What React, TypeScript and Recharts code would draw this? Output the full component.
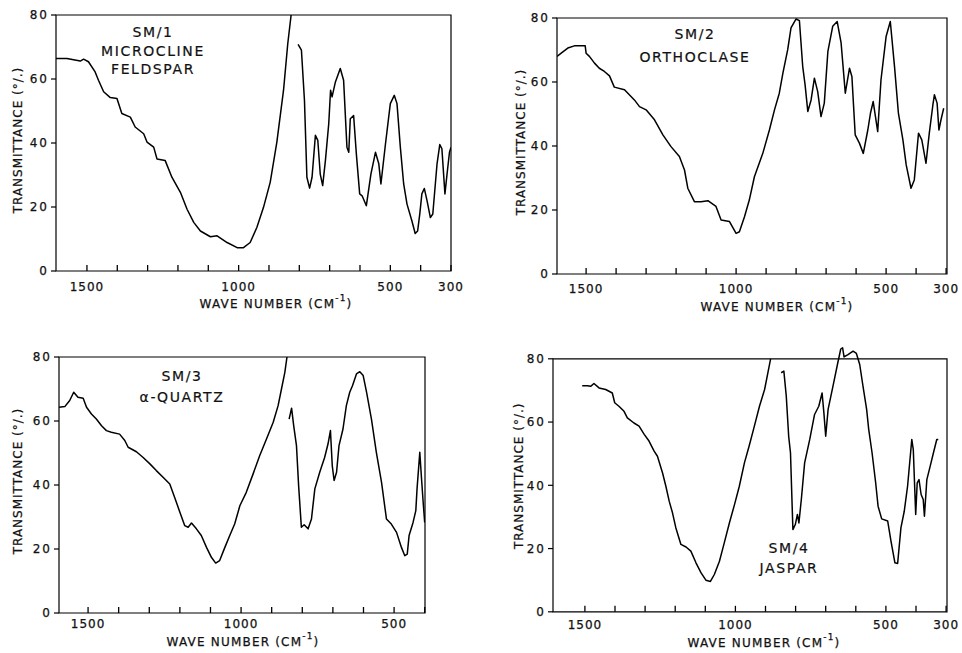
import { LineChart, Line, XAxis, YAxis, ReferenceArea, Label } from 'recharts';

// wave number ticks (cm-1) and which of them carry a label
const xTicks = [1500, 1400, 1300, 1200, 1100, 1000, 900, 800, 700, 600, 500, 400, 300];
const xTickLabels = [1500, 1000, 500, 300];
const yTicks = [0, 20, 40, 60, 80];

// SM/1 microcline feldspar (null = pen off the chart)
const sm1Wave = [1602, 1566, 1522, 1511, 1495, 1473, 1462, 1445, 1423, 1401, 1385, 1357, 1341, 1313, 1302, 1280, 1269, 1242, 1220, 1192, 1170, 1148, 1126, 1093, 1071, 1038, 1005, 984, 962, 940, 918, 896, 874, 852, 838, 827, 815, 804, 793, 783, 775, 766, 758, 747, 739, 731, 723, 714, 703, 697, 692, 681, 665, 654, 643, 637, 632, 621, 612, 601, 593, 579, 564, 549, 538, 531, 516, 500, 487, 478, 467, 456, 445, 429, 418, 410, 403, 396, 388, 379, 368, 360, 346, 337, 330, 320, 313, 305, 300];
const sm1T = [66.4, 66.4, 65.6, 66.2, 65.4, 62.2, 59.6, 56, 54.2, 53.9, 49.2, 48.1, 45, 42.9, 40.3, 38.7, 35, 34.5, 29.3, 24.6, 19.3, 15.2, 12.5, 10.7, 11, 8.9, 7.3, 7.3, 8.9, 13.6, 19.9, 27.7, 40.3, 56.5, 71.1, 80, null, 70.8, 69, 53.3, 29.3, 25.9, 29.3, 42.4, 40.8, 30.3, 26.7, 34.5, 46, 56.5, 54.4, 59.1, 63.3, 59.6, 38.7, 37.1, 47.6, 48.6, 36.6, 24.1, 23.5, 20.4, 30.3, 37.1, 33.5, 27.2, 39.7, 52.3, 54.9, 52.3, 38.7, 27.2, 20.9, 15.7, 11.7, 12.5, 17.8, 24.1, 25.8, 22, 16.7, 17.8, 33.5, 39.5, 38.2, 24.1, 30.3, 37.1, 38.7];

// SM/2 orthoclase
const sm2Wave = [1597, 1583, 1561, 1539, 1503, 1500, 1489, 1472, 1456, 1439, 1422, 1406, 1372, 1339, 1322, 1300, 1272, 1244, 1217, 1189, 1172, 1161, 1139, 1117, 1094, 1067, 1050, 1022, 1000, 989, 972, 956, 939, 911, 889, 872, 856, 844, 828, 817, 800, 789, 778, 770, 761, 750, 739, 728, 717, 706, 694, 678, 663, 650, 636, 622, 614, 603, 589, 576, 561, 552, 543, 528, 517, 500, 486, 472, 459, 444, 433, 417, 406, 392, 381, 367, 356, 344, 339, 330, 324, 317, 308];
const sm2T = [68, 69, 70.6, 71.3, 71.3, 69, 68, 65.9, 64.3, 63.3, 61.9, 58.4, 57.6, 54.4, 52.3, 51.3, 48.2, 43.5, 39.8, 36.7, 32.5, 26.8, 22.6, 22.6, 22.9, 21.1, 16.9, 16.4, 12.7, 13.2, 17.9, 23.1, 30.4, 37.7, 45, 51.3, 56.5, 62.8, 70.1, 76.9, 79.7, 79.2, 64.9, 59.1, 50.8, 54.4, 61.2, 57, 49.2, 53.4, 69.6, 77.4, 78.9, 72.2, 56.5, 64.3, 61.7, 43.5, 40.9, 37.7, 45, 50.3, 53.9, 44.5, 60.7, 74.2, 78.9, 64.9, 50.3, 41.9, 34.1, 26.8, 29.4, 44, 41.9, 34.6, 44, 52.9, 56, 53.4, 45, 48.2, 51.8];

// SM/3 alpha-quartz
const sm3Wave = [1595, 1576, 1560, 1547, 1533, 1516, 1505, 1489, 1473, 1456, 1440, 1424, 1397, 1380, 1369, 1342, 1320, 1298, 1277, 1255, 1233, 1217, 1200, 1184, 1173, 1162, 1146, 1130, 1113, 1097, 1083, 1070, 1053, 1037, 1021, 1004, 983, 961, 939, 917, 895, 879, 868, 857, 850, 846, 843, 835, 828, 819, 812, 803, 794, 781, 770, 759, 743, 727, 716, 708, 702, 696, 688, 680, 667, 656, 645, 636, 623, 612, 601, 590, 574, 558, 541, 525, 509, 492, 476, 465, 457, 451, 438, 429, 425, 416, 411, 405, 400];
const sm3T = [64.3, 64.5, 66.4, 69, 67.4, 67.1, 64.3, 62.2, 60.6, 58.5, 57, 56.5, 55.9, 53.9, 51.8, 50.4, 48.6, 46.6, 44.5, 42.4, 40.3, 36.1, 31.5, 27.3, 26.8, 28.1, 26.3, 24.2, 20.5, 17.4, 15.6, 16.4, 20.5, 24.2, 27.8, 33.5, 37.7, 43.4, 49.2, 54.4, 59.6, 64.8, 70, 75.2, 80, null, 60.6, 64, 58.5, 52.3, 39.8, 26.8, 27.6, 26.3, 29.4, 38.8, 44, 48.6, 52.8, 57, 46, 41.4, 44, 52.3, 57.5, 64.8, 69, 71, 74.7, 75.4, 74.2, 69, 60.6, 50.2, 40.8, 29.4, 27.8, 25.2, 20.5, 17.9, 18.4, 24.2, 28.3, 32, 38.8, 50.2, 42.9, 34.6, 28.3];

// SM/4 jaspar
const sm4Wave = [1509, 1492, 1481, 1470, 1453, 1431, 1409, 1401, 1387, 1370, 1359, 1337, 1320, 1303, 1287, 1270, 1259, 1242, 1231, 1220, 1209, 1198, 1181, 1164, 1148, 1131, 1114, 1098, 1083, 1070, 1053, 1037, 1020, 1003, 987, 970, 953, 937, 920, 903, 892, 883, 865, 848, 839, 831, 823, 817, 809, 801, 794, 789, 781, 770, 753, 737, 723, 712, 706, 700, 692, 676, 661, 650, 644, 639, 626, 609, 598, 587, 576, 564, 557, 546, 534, 526, 514, 494, 483, 470, 461, 450, 439, 428, 414, 409, 401, 396, 390, 383, 376, 372, 364, 353, 342, 331, 326];
const sm4T = [71.5, 71.5, 71.3, 72.2, 70.8, 70.3, 69.2, 66.1, 65, 63.4, 61.3, 59.7, 58.7, 56.1, 54, 50.8, 49.2, 43.9, 39.7, 35, 31.3, 26.6, 21.3, 20.5, 19.2, 15.5, 12.3, 10, 9.6, 11.8, 16, 21.8, 28.1, 33.9, 39.7, 47.1, 52.9, 58.7, 65, 70.3, 75.6, 80, null, 75.6, 76.1, 68.2, 55.5, 50.3, 26, 27.6, 30.8, 28.1, 35.5, 47.1, 54.5, 62.4, 65, 69.2, 62.9, 55.5, 64, 71.3, 78.2, 83.1, 83.5, 80.6, 81.3, 82.4, 81.7, 78.2, 71.3, 64, 57.6, 50.3, 40.8, 33.4, 29.4, 28.7, 22.3, 15.5, 15.3, 26.6, 31.8, 39.7, 54.5, 51.3, 30.8, 40.8, 41.8, 37.1, 35.5, 30.2, 41.8, 46, 50.3, 54.5, 54.5];

const sm1Name = ['SM/1', 'MICROCLINE', 'FELDSPAR'];
const sm2Name = ['SM/2', 'ORTHOCLASE'];
const sm3Name = ['SM/3', 'α-QUARTZ'];
const sm4Name = ['SM/4', 'JASPAR'];

const FONT = '"DejaVu Sans", Verdana, sans-serif';
const INK = '#111';

// page-pixel frame of each plot box + where its texts sit
const panels = [
  { wave: sm1Wave, t: sm1T, name: sm1Name, left: 56, right: 451, y80: 15, y0: 271, xMin: 300, xMax: 1602, yMax: 80,
    tickDy: 16, xTitle: [276, 304], yTitle: [18, 140], note: [153, 32, 18.5] },
  { wave: sm2Wave, t: sm2T, name: sm2Name, left: 557, right: 947, y80: 18, y0: 274, xMin: 297, xMax: 1597, yMax: 80,
    tickDy: 15, xTitle: [777, 307], yTitle: [521, 142], note: [695, 34, 23] },
  { wave: sm3Wave, t: sm3T, name: sm3Name, left: 59, right: 425, y80: 357, y0: 613, xMin: 399, xMax: 1595, yMax: 80,
    tickDy: 11, xTitle: [243, 642], yTitle: [18, 481], note: [182, 376, 21] },
  { wave: sm4Wave, t: sm4T, name: sm4Name, left: 553, right: 947, y80: 359, y0: 612, xMin: 297, xMax: 1606, yMax: 85,
    tickDy: 13, xTitle: [764, 643], yTitle: [519, 476], note: [789, 548, 20] },
];

const AXW = 50;
const AXH = 45;
const MT = 10;
const MR = 14;
const XTICK_LEN = 6;

// tick text only; the inward tick marks come from tickLine with a negative tickSize
function XTick(props: any) {
  const { x, y, payload, dy } = props;
  if (!xTickLabels.includes(payload.value)) return <g />;
  return (
    <text x={x} y={y + dy + 4} textAnchor="middle" fontFamily={FONT} fontSize={12} letterSpacing={1} fill={INK} stroke={INK} strokeWidth={0.25}>
      {payload.value}
    </text>
  );
}

function Panel({ p }: { p: any }) {
  const ppu = (p.y0 - p.y80) / 80;
  const plotTop = p.y80 - (p.yMax - 80) * ppu;
  const chartLeft = p.left - AXW;
  const chartTop = plotTop - MT;
  const width = p.right - p.left + AXW + MR;
  const height = p.y0 - chartTop + AXH;
  const data = p.wave.map((w: number, i: number) => ({ w, t: p.t[i] }));
  const ticks = xTicks.filter((v) => v >= p.xMin && v <= p.xMax);

  const [xtx, xty] = [p.xTitle[0] - chartLeft, p.xTitle[1] - chartTop];
  const [ytx, yty] = [p.yTitle[0] - chartLeft, p.yTitle[1] - chartTop];
  const [nx, ny, gap] = [p.note[0] - chartLeft, p.note[1] - chartTop, p.note[2]];

  return (
    <div style={{ position: 'absolute', left: chartLeft, top: chartTop }}>
      <LineChart width={width} height={height} data={data} margin={{ top: MT, right: MR, bottom: 0, left: 0 }}>
        <XAxis
          type="number"
          dataKey="w"
          domain={[p.xMin, p.xMax]}
          reversed
          allowDataOverflow
          ticks={ticks}
          interval={0}
          height={AXH}
          axisLine={false}
          tickLine={{ stroke: '#000', strokeWidth: 1.3 }}
          tickSize={-XTICK_LEN}
          tickMargin={XTICK_LEN}
          tick={(tp: any) => <XTick {...tp} dy={p.tickDy} />}
        >
          <Label
            content={() => (
              <text x={xtx} y={xty} textAnchor="middle" dominantBaseline="central" fontFamily={FONT} fontSize={12} letterSpacing={1.2} fill={INK} stroke={INK} strokeWidth={0.25}>
                WAVE NUMBER (CM
                <tspan dy={-6} fontSize={9}>-1</tspan>
                <tspan dy={6}>)</tspan>
              </text>
            )}
          />
        </XAxis>
        <YAxis
          type="number"
          domain={[0, p.yMax]}
          allowDataOverflow
          ticks={yTicks}
          width={AXW}
          axisLine={false}
          tickSize={5}
          tickMargin={2}
          tickLine={{ stroke: '#000', strokeWidth: 1.2 }}
          tick={{ fontFamily: FONT, fontSize: 12, letterSpacing: 2, fill: INK, stroke: INK, strokeWidth: 0.25 }}
        >
          <Label
            content={() => (
              <text
                x={ytx}
                y={yty}
                transform={`rotate(-90 ${ytx} ${yty})`}
                textAnchor="middle"
                dominantBaseline="central"
                fontFamily={FONT}
                fontSize={12}
                letterSpacing={1}
                fill={INK}
                stroke={INK}
                strokeWidth={0.25}
              >
                TRANSMITTANCE (°/.)
              </text>
            )}
          />
        </YAxis>
        <ReferenceArea
          x1={p.xMin}
          x2={p.xMax}
          y1={0}
          y2={80}
          fill="none"
          stroke="#000"
          strokeWidth={1.2}
          label={{
            content: () => (
              <g>
                {p.name.map((s: string, i: number) => (
                  <text key={s} x={nx} y={ny + i * gap} textAnchor="middle" dominantBaseline="central" fontFamily={FONT} fontSize={14} letterSpacing={1.6} fill={INK} stroke={INK} strokeWidth={0.2}>
                    {s}
                  </text>
                ))}
              </g>
            ),
          }}
        />
        <Line type="linear" dataKey="t" stroke="#000" strokeWidth={1.5} strokeLinejoin="round" dot={false} isAnimationActive={false} />
      </LineChart>
    </div>
  );
}

export default function App() {
  return (
    <div style={{ position: 'absolute', left: 0, top: 0, width: 962, height: 653, background: '#fff' }}>
      {panels.map((p, i) => (
        <Panel key={i} p={p} />
      ))}
    </div>
  );
}
